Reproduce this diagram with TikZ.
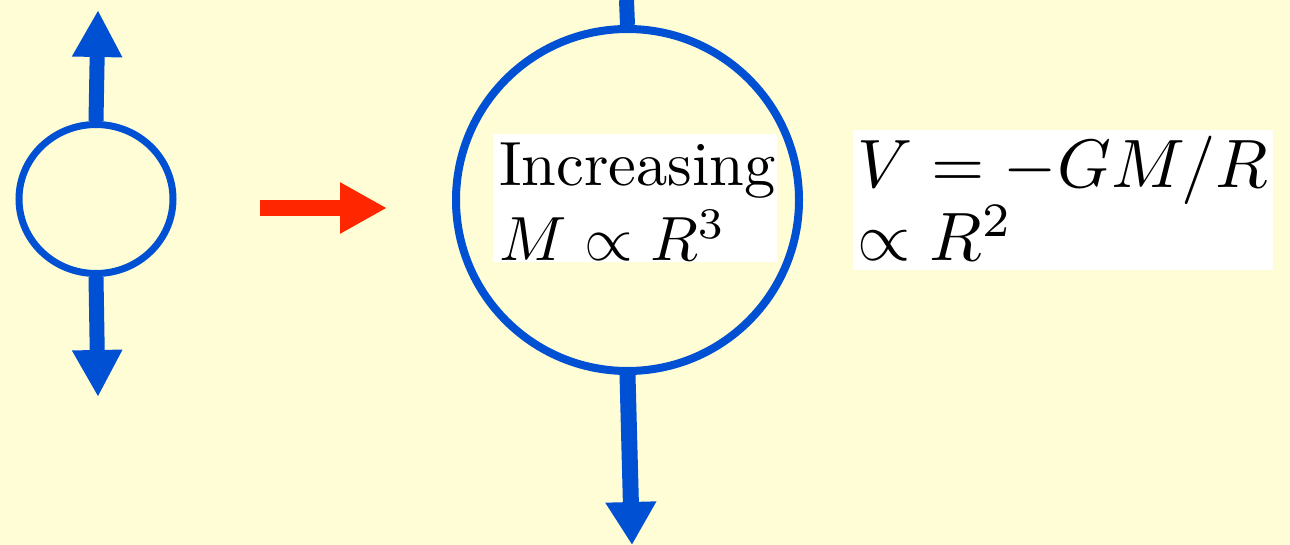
\documentclass[tikz,border=0pt]{standalone}
\usetikzlibrary{arrows.meta,shapes.geometric}
\definecolor{bg}{RGB}{255,253,214}
\definecolor{myblue}{RGB}{0,80,212}
\definecolor{myred}{RGB}{255,38,0}
\begin{document}
\begin{tikzpicture}[x=1pt,y=-1pt,
  ring/.style={draw=myblue,ellipse,inner sep=0pt},
  bluearrow/.style={draw=myblue,line width=15pt,-{Triangle[length=47pt,width=47pt]}},
  bigarrow/.style={draw=myblue,line width=16pt,-{Triangle[length=43pt,width=48pt]}},
  redarrow/.style={draw=myred,line width=16pt,-{Triangle[length=47pt,width=48pt]}},
  txtA/.style={anchor=base west,inner sep=0pt,font=\normalsize,scale=6.25},
  txtB/.style={anchor=base west,inner sep=0pt,font=\normalsize,scale=6.85}]
\useasboundingbox (0,0) rectangle (1290,545);
\fill[bg] (0,0) rectangle (1290,545);
% small circle with arrows
\node[ring,line width=7pt,minimum width=154pt,minimum height=149pt] (small) at (96,199) {};
\coordinate (sup) at (98,10);
\coordinate (sdown) at (98,397);
\draw[bluearrow] (small.north) -- (sup);
\draw[bluearrow] (small.south) -- (sdown);
% red arrow
\coordinate (ra) at (260,208);
\coordinate (rb) at (387,208);
\draw[redarrow] (ra) -- (rb);
% big circle
\node[ring,line width=8pt,minimum width=343pt,minimum height=342pt] (big) at (627.5,200) {};
\coordinate (btop) at (626.5,0);
\coordinate (bdown) at (632,545);
\draw[myblue,line width=15pt] (big.north) -- (btop);
\draw[bigarrow] (big.south) -- (bdown);
% text boxes
\fill[white] (493,134) rectangle (777,262);
\node[txtA] (inc) at (498,186) {Increasing};
\node[txtA] (mr) at (498,261) {$M\propto R^3$};
\fill[white] (853,130) rectangle (1273,270);
\node[txtB] (vg) at (856,188) {$V=-GM/R$};
\node[txtB] (pr) at (856,261) {$\propto R^2$};
\end{tikzpicture}
\end{document}
